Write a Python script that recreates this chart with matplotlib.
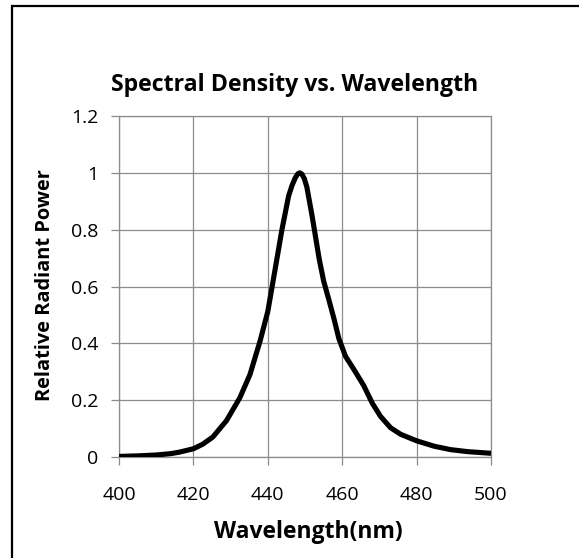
import matplotlib.pyplot as plt
from matplotlib.patches import Rectangle

plt.rcParams['font.family'] = ['Open Sans', 'DejaVu Sans']

# values
wavelength = [400, 405, 410, 414, 416.2, 420, 422.5, 425.2, 428.9, 432.5, 435.2, 437.9,
              440, 442, 443.8, 445.6, 446.5, 447.4, 448.1, 448.6, 449.2, 449.8, 450.5,
              451.9, 453.8, 455, 456.4, 457.8, 459.1, 460.9, 463.1, 465.8, 468.1, 470.3,
              473, 475.7, 480, 484.7, 489.1, 493.6, 500]
power = [0.002, 0.004, 0.007, 0.012, 0.017, 0.029, 0.045, 0.07, 0.128, 0.209, 0.29, 0.407,
         0.512, 0.663, 0.80, 0.919, 0.955, 0.983, 0.997, 1.0, 0.995, 0.98, 0.95,
         0.849, 0.698, 0.62, 0.554, 0.486, 0.417, 0.354, 0.309, 0.251, 0.189, 0.143,
         0.103, 0.08, 0.057, 0.038, 0.026, 0.019, 0.013]

x_ticks = [400, 420, 440, 460, 480, 500]
y_ticks = [0, 0.2, 0.4, 0.6, 0.8, 1.0, 1.2]
y_labels = ['0', '0.2', '0.4', '0.6', '0.8', '1', '1.2']

fig = plt.figure(figsize=(5.79, 5.58), dpi=100)
ax = fig.add_axes([119 / 579, 1 - 457 / 558, 372 / 579, 341 / 558])

# chart border (only top and left edges fall inside the crop)
fig.patches.append(Rectangle((12 / 579, -0.1), 1.2, 1.1 - 6 / 558, transform=fig.transFigure,
                             fill=False, edgecolor='black', linewidth=1.6))

ax.plot(wavelength, power, color='black', linewidth=3.7, solid_joinstyle='round',
        solid_capstyle='butt', zorder=3)

ax.set_xlim(400, 500)
ax.set_ylim(0, 1.2)
ax.set_xticks(x_ticks)
ax.set_yticks(y_ticks)
ax.set_yticklabels(y_labels)
ax.grid(True, color='#8c8c8c', linewidth=0.9)
for s in ax.spines.values():
    s.set_color('#8c8c8c')
    s.set_linewidth(0.9)
ax.tick_params(direction='out', length=6, width=0.9, color='#8c8c8c', labelsize=14,
               labelcolor='black')
ax.tick_params(axis='x', pad=15)
ax.tick_params(axis='y', pad=9)

title = fig.text(295 / 579, 1 - 85 / 558, 'Spectral Density vs. Wavelength', ha='center',
                 va='center', fontsize=15, fontweight='bold')
xlab = fig.text(308 / 579, 1 - 532 / 558, 'Wavelength(nm)', ha='center', va='center',
                fontsize=15, fontweight='bold')
ylab = fig.text(45 / 579, 1 - 285 / 558, 'Relative Radiant Power', ha='center', va='center',
                rotation=90, fontsize=13, fontweight='bold')

# scale the text so it spans the same pixel length as in the reference
renderer = fig.canvas.get_renderer()
for t, target, use_h in [(title, 369, False), (xlab, 189, False), (ylab, 230, True)]:
    bb = t.get_window_extent(renderer)
    size = bb.height if use_h else bb.width
    t.set_fontsize(t.get_fontsize() * target / size)

fig.savefig('out.png', dpi=100)
